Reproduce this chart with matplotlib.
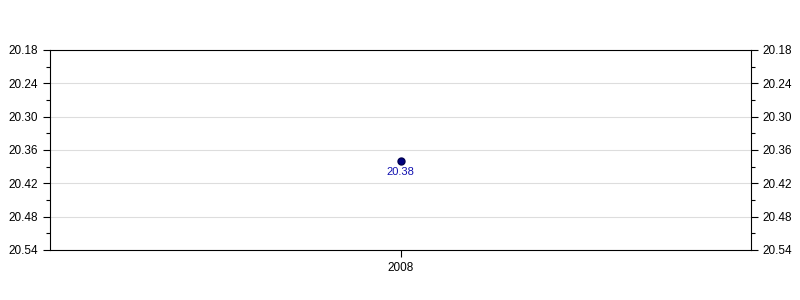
import matplotlib
matplotlib.use("Agg")
import matplotlib.pyplot as plt
from matplotlib.ticker import FixedLocator

plt.rcParams['font.family'] = ['Liberation Sans', 'DejaVu Sans']

years = [2008]
values = [20.38]
labels = ["20.38"]
yticks = [20.18, 20.24, 20.30, 20.36, 20.42, 20.48, 20.54]

fig = plt.figure(figsize=(8, 3), dpi=100)
ax = fig.add_axes([0.0625, 0.1667, 0.87625, 0.6667])

ax.plot(years, values, 'o', color='#000080', markersize=5, markeredgecolor='#000050', zorder=3)
for x, v, t in zip(years, values, labels):
    ax.annotate(t, (x, v), xytext=(0, -4.5), textcoords='offset points',
                ha='center', va='top', color='#1010b0', fontsize=8)

ax.set_xlim(2007, 2009)
ax.set_ylim(20.54, 20.18)
ax.yaxis.set_major_locator(FixedLocator(yticks))
minors = [(a + b) / 2 for a, b in zip(yticks[:-1], yticks[1:])]
ax.yaxis.set_minor_locator(FixedLocator(minors))
ax.set_yticklabels([f"{t:.2f}" for t in yticks])
ax.set_xticks(years)
ax.set_xticklabels([str(y) for y in years])

ax.grid(axis='y', which='major', color='#dddddd', linewidth=0.8)
ax.set_axisbelow(True)

ax.tick_params(axis='y', which='major', length=5, width=0.8, labelsize=8.5, left=True, right=True, labelleft=True, labelright=True)
ax.tick_params(axis='y', which='minor', length=3, width=0.8, left=True, right=True)
ax.tick_params(axis='x', which='major', length=5, width=0.8, labelsize=8.5)

for s in ax.spines.values():
    s.set_linewidth(0.8)
    s.set_color('black')

fig.savefig("out.png", dpi=100)
